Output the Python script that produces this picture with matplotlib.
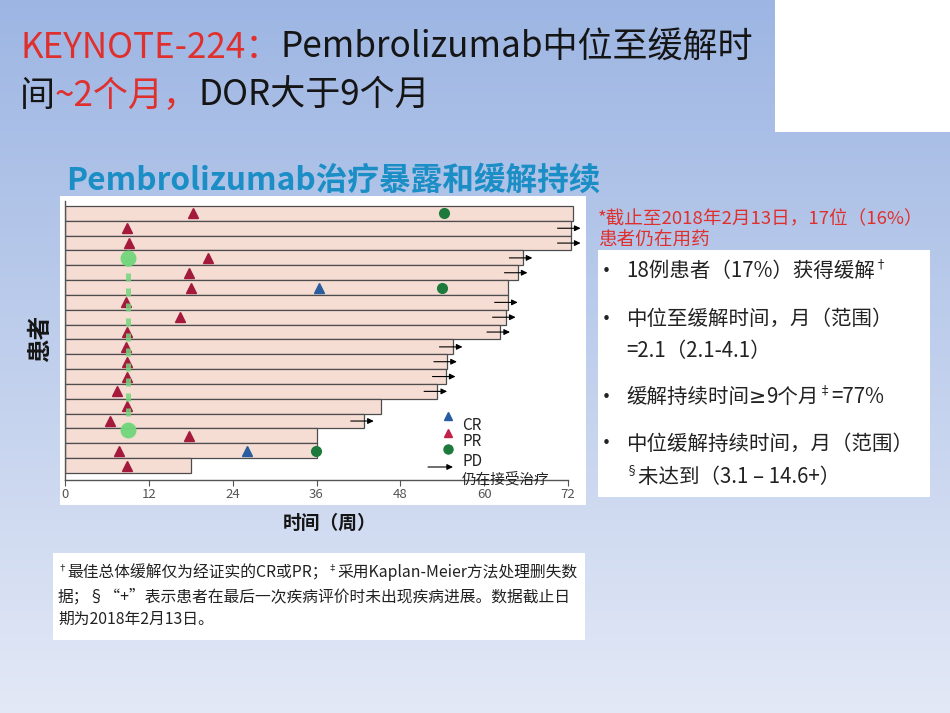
import numpy as np
import matplotlib
matplotlib.use("Agg")
import matplotlib.pyplot as plt
from matplotlib.patches import Rectangle, FancyArrowPatch

FONT = ['Noto Sans CJK SC', 'DejaVu Sans']
plt.rcParams['font.family'] = FONT

# ---------------- data ----------------
patients = list(range(1, 19))
duration_weeks = [72.7, 72.4, 72.4, 65.5, 64.8, 63.4, 63.4, 63.1, 62.3,
                  55.5, 54.7, 54.5, 53.3, 45.3, 42.8, 36.1, 36.1, 18.0]
still_on_treatment = [0, 1, 1, 1, 1, 0, 1, 1, 1, 1, 1, 1, 1, 0, 1, 0, 0, 0]
pr_weeks = [18.3, 8.9, 9.2, 20.4, 17.8, 18.1, 8.7, 16.4, 8.9,
            8.7, 8.9, 8.9, 7.5, 8.9, 6.5, 17.8, 7.7, 8.9]
cr_patients = [6, 17]
cr_weeks = [36.3, 26.1]
pd_patients = [1, 6, 17]
pd_weeks = [54.2, 53.9, 35.9]
median_ttr_week = 9.05
median_ttr_rows = [4, 15.6]
x_ticks = [0, 12, 24, 36, 48, 60, 72]
x_tick_labels = ['0', '12', '24', '36', '48', '60', '72']
legend_labels = ['CR', 'PR', 'PD', '仍在接受治疗']

# ---------------- style ----------------
RED = '#e0302e'
BLACK = '#151515'
TEAL = '#1b8ec6'
BAR_FC = '#f6ddd4'
BAR_EC = '#4d4d4d'
PR_C = '#a31a3c'
CR_C = '#2a5d9f'
PD_C = '#1c7a3c'
LG_C = '#72d67c'
TXT = '#222222'

W, H = 950, 713
fig = plt.figure(figsize=(W / 100, H / 100), dpi=100)

# background gradient + white panels
bg = fig.add_axes([0, 0, 1, 1], zorder=0)
bg.set_xlim(0, W)
bg.set_ylim(H, 0)
bg.axis('off')
t = np.linspace(0, 1, 256)[:, None, None]
top = np.array([0.615, 0.712, 0.890])
bot = np.array([0.890, 0.912, 0.965])
grad = top + (bot - top) * t
grad = np.repeat(grad, 2, axis=1)
bg.imshow(grad, extent=(0, W, H, 0), aspect='auto', interpolation='bilinear')
for (x, y, w, h) in [(775, 0, 175, 132), (60, 196, 526, 309),
                     (598, 250, 332, 247), (53, 553, 532, 87)]:
    bg.add_patch(Rectangle((x, y), w, h, facecolor='white', edgecolor='none'))

# ---------------- swimmer chart ----------------
PX = 503 / 72.0
ROW = 14.83
x0_px, y_axis_px, y_top_px, bar_top = 65, 480, 201, 206
xmax = 75
ax = fig.add_axes([x0_px / W, (H - y_axis_px) / H, xmax * PX / W,
                   (y_axis_px - y_top_px) / H], zorder=1)
ax.set_facecolor('none')
ax.set_xlim(0, xmax)
ylim_top = 0.5 - (bar_top - y_top_px) / ROW
ylim_bot = 18.5 + (y_axis_px - (bar_top + 18 * ROW)) / ROW
ax.set_ylim(ylim_bot, ylim_top)

ax.barh(patients, duration_weeks, height=1.0, left=0, color=BAR_FC,
        edgecolor=BAR_EC, linewidth=0.9, zorder=2)

ax.plot(pr_weeks, patients, '^', ls='none', ms=6.5, color=PR_C, zorder=3)
ax.plot(cr_weeks, cr_patients, '^', ls='none', ms=6.5, color=CR_C, zorder=3)
ax.plot(pd_weeks, pd_patients, 'o', ls='none', ms=7, color=PD_C, zorder=3)

ax.plot([median_ttr_week] * 2, median_ttr_rows, color=LG_C, lw=3.6,
        dashes=(1.6, 1.4), dash_capstyle='butt', alpha=0.85, zorder=4)
ax.plot([median_ttr_week] * 2, median_ttr_rows, 'o', ls='none', ms=10.5,
        color=LG_C, alpha=0.95, zorder=4)

for p, d, on in zip(patients, duration_weeks, still_on_treatment):
    if on:
        ax.annotate('', xy=(d + 1.4, p), xytext=(d - 1.9, p),
                    arrowprops=dict(arrowstyle='-|>,head_length=0.35,head_width=0.17',
                                    color='black', lw=0.8, shrinkA=0, shrinkB=0,
                                    mutation_scale=10), zorder=5)

for s in ['top', 'right']:
    ax.spines[s].set_visible(False)
ax.spines['left'].set_color('#555555')
ax.spines['left'].set_linewidth(1.0)
ax.spines['bottom'].set_color('#555555')
ax.spines['bottom'].set_linewidth(1.0)
ax.spines['bottom'].set_bounds(0, 72)
ax.set_yticks([])
ax.set_xticks(x_ticks)
ax.set_xticklabels(x_tick_labels, fontsize=9.5, color='#555555')
ax.tick_params(axis='x', direction='out', length=4, width=0.8,
               color='#555555', pad=2)

# ---------------- overlay texts ----------------
ov = fig.add_axes([0, 0, 1, 1], zorder=3)
ov.set_xlim(0, W)
ov.set_ylim(H, 0)
ov.axis('off')
R = fig.canvas.get_renderer()
LATIN = ['DejaVu Sans']


def rich(x, y, pieces, size, weight='normal'):
    for pc in pieces:
        txt, col, sc, dy = pc[:4]
        fam = pc[4] if len(pc) > 4 else FONT
        tt = ov.text(x, y + dy * size * 100 / 72, txt, fontsize=size * sc,
                     color=col, weight=weight, ha='left', va='baseline', family=fam)
        x = tt.get_window_extent(R).x1
    return x


def fit(pieces, width, weight='normal', base=20.0):
    ts = []
    x = 0
    for pc in pieces:
        txt, col, sc, dy = pc[:4]
        fam = pc[4] if len(pc) > 4 else FONT
        tt = ov.text(x, 0, txt, fontsize=base * sc, weight=weight, family=fam)
        x = tt.get_window_extent(R).x1
        ts.append(tt)
    for tt in ts:
        tt.remove()
    return base * width / x


# title
t1 = [('KEYNOTE-224：', RED, 1, 0), ('Pembrolizumab中位至缓解时', BLACK, 1, 0)]
t2 = [('间', BLACK, 1, 0), ('~2个月，', RED, 1, 0), ('DOR大于9个月', BLACK, 1, 0)]
ts = fit(t1, 732)
rich(20, 58, t1, ts)
rich(20, 106, t2, ts)

# subtitle
st = [('Pembrolizumab治疗暴露和缓解持续', TEAL, 1, 0)]
rich(66, 190, st, fit(st, 535, weight='bold'), weight='bold')

# red note
n1 = [('*截止至2018年2月13日，17位（16%）', RED, 1, 0)]
ns = fit(n1, 325)
rich(598, 224, n1, ns)
rich(598, 246, [('患者仍在用药', RED, 1, 0)], ns)

# bullet box
bs = fit([('中位缓解持续时间，月（范围）', TXT, 1, 0)], 286)
sup = -0.42
bullet_lines = [
    (277, True, [('18例患者（17%）获得缓解', TXT, 1, 0), ('†', TXT, 0.6, sup)]),
    (325, True, [('中位至缓解时间，月（范围）', TXT, 1, 0)]),
    (357, False, [('=2.1（2.1-4.1）', TXT, 1, 0)]),
    (403, True, [('缓解持续时间', TXT, 1, 0), ('≥', TXT, 1, 0, LATIN), ('9个月', TXT, 1, 0),
                 ('‡', TXT, 0.6, sup), ('=77%', TXT, 1, 0)]),
    (450, True, [('中位缓解持续时间，月（范围）', TXT, 1, 0)]),
    (483, False, [('§', TXT, 0.6, sup), ('未达到（3.1 – 14.6+）', TXT, 1, 0)]),
]
for y, b, pieces in bullet_lines:
    if b:
        ov.text(606, y - 6, '•', fontsize=bs * 0.75, color=TXT, ha='center',
                va='center', family=LATIN)
    rich(626, y, pieces, bs)

# footnote
f1 = [('†', TXT, 0.6, sup), ('最佳总体缓解仅为经证实的CR或PR；', TXT, 1, 0),
      ('‡', TXT, 0.6, sup), ('采用Kaplan-Meier方法处理删失数', TXT, 1, 0)]
f2 = [('据；§“+”表示患者在最后一次疾病评价时未出现疾病进展。数据截止日', TXT, 1, 0)]
f3 = [('期为2018年2月13日。', TXT, 1, 0)]
fs = fit(f1, 520)
rich(58, 577, f1, fs)
rich(58, 601, f2, fs)
rich(58, 624, f3, fs)

# axis labels
ov.text(40, 338, '患者', rotation=90, ha='center', va='center', fontsize=17,
        weight='bold', color=BLACK)
ov.text(330, 523, '时间（周）', ha='center', va='center', fontsize=13.5,
        weight='bold', color=BLACK)

# legend
ov.plot(448, 416, '^', ms=6, color=CR_C)
ov.plot(448, 433, '^', ms=6, color='#c0224a')
ov.plot(448, 449, 'o', ms=6.5, color=PD_C)
ov.add_patch(FancyArrowPatch((428, 467), (453, 467),
                             arrowstyle='-|>,head_length=0.35,head_width=0.17',
                             mutation_scale=10, color='black', lw=0.8,
                             shrinkA=0, shrinkB=0))
for y, lab in zip([425, 442, 461, 479], legend_labels):
    ov.text(462, y, lab, ha='left', va='center', fontsize=11 if y < 470 else 10.5,
            color=TXT)

fig.savefig('out.png', dpi=100)
